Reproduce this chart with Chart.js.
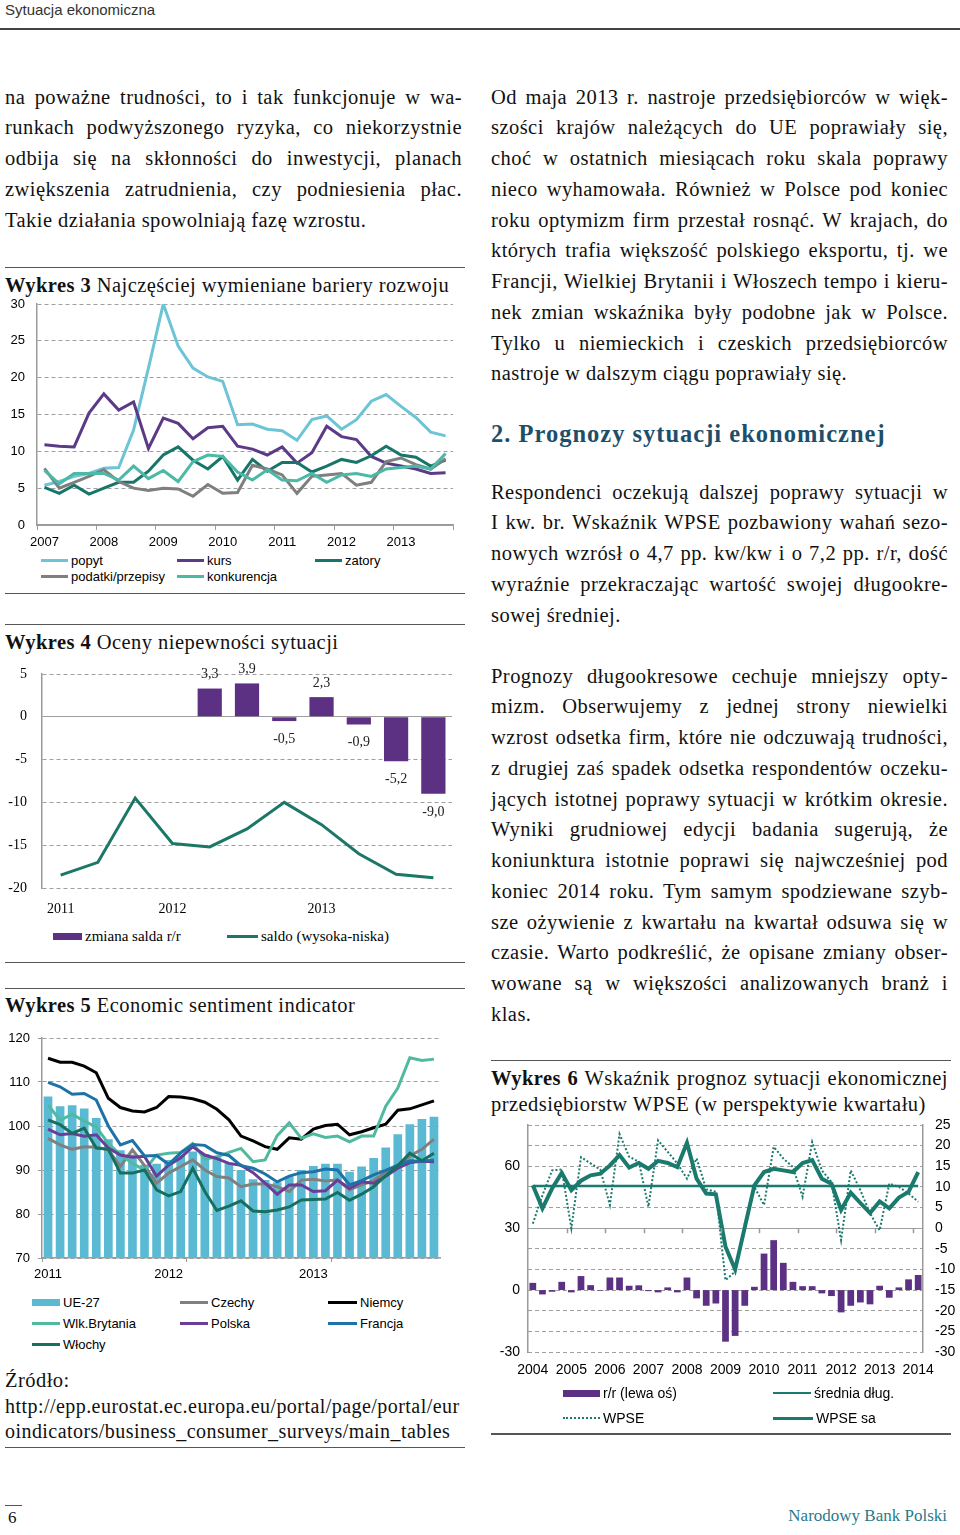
<!DOCTYPE html>
<html lang="pl">
<head>
<meta charset="utf-8">
<title>Sytuacja ekonomiczna</title>
<script src="https://cdn.jsdelivr.net/npm/chart.js@4.4.1/dist/chart.umd.min.js"></script>
<style>
  html, body { margin: 0; padding: 0; background: #fff; }
  body { width: 960px; height: 1535px; position: relative; overflow: hidden;
         font-family: 'Liberation Serif', 'DejaVu Serif', serif; color: #111; }
  .ln { position: absolute; height: 31px; line-height: 31px; font-size: 20.5px; letter-spacing: 0.45px;
        word-spacing: -1px; text-align: justify; text-align-last: justify; }
  .ln.end { text-align-last: left; word-spacing: 0; }
  .L { left: 5px; width: 457px; }
  .R { left: 491px; width: 457px; }
  .ttl { position: absolute; font-size: 20.5px; letter-spacing: 0.45px; line-height: 26px; white-space: nowrap; }
  .url { font-size: 20px; }
  .rule { position: absolute; height: 0; border-top: 1px solid #555; }
  .chart { position: absolute; }
  .lg { position: absolute; display: flex; align-items: center; height: 18px; transform: translateY(-50%);
        font-family: 'Liberation Sans', Arial, sans-serif; font-size: 13px; white-space: nowrap; color: #000; }
  .lg.serif { font-family: 'Liberation Serif', serif; font-size: 15px; }
  .lg.big { font-size: 14px; }
  .sw { display: inline-block; margin-right: 3px; }
  .sw.line { height: 3px; }
  .sw.thin { height: 2px; }
  .sw.rect { height: 7px; }
  .sw.dot { height: 0; border-top: 2px dotted; }
</style>
</head>
<body>

<div style="position:absolute;left:5px;top:1px;font-family:'Liberation Sans',Arial,sans-serif;font-size:15px;color:#333;">Sytuacja ekonomiczna</div>
<div class="rule" style="left:0;top:28px;width:960px;border-top:2px solid #444;"></div>

<!-- lewa kolumna -->
<div class="ln L" style="top:81.5px">na poważne trudności, to i tak funkcjonuje w wa-</div>
<div class="ln L" style="top:112.3px">runkach podwyższonego ryzyka, co niekorzystnie</div>
<div class="ln L" style="top:143px">odbija się na skłonności do inwestycji, planach</div>
<div class="ln L" style="top:173.8px">zwiększenia zatrudnienia, czy podniesienia płac.</div>
<div class="ln L end" style="top:204.5px">Takie działania spowolniają fazę wzrostu.</div>

<div class="rule" style="left:5px;top:267px;width:460px;"></div>
<div class="ttl" style="left:5px;top:272px"><b>Wykres 3</b> Najczęściej wymieniane bariery rozwoju</div>
<div class="chart" style="left:0;top:292px;width:465px;height:258px"><canvas id="c3"></canvas></div>
<div class="rule" style="left:5px;top:593px;width:460px;"></div>

<div class="rule" style="left:5px;top:624px;width:460px;"></div>
<div class="ttl" style="left:5px;top:629px"><b>Wykres 4</b> Oceny niepewności sytuacji</div>
<div class="chart" style="left:0;top:660px;width:462px;height:263px"><canvas id="c4"></canvas></div>
<div class="rule" style="left:5px;top:962px;width:460px;"></div>

<div class="rule" style="left:5px;top:988px;width:460px;"></div>
<div class="ttl" style="left:5px;top:992px"><b>Wykres 5</b> Economic sentiment indicator</div>
<div class="chart" style="left:0;top:1026px;width:448px;height:262px"><canvas id="c5"></canvas></div>

<div class="ttl" style="left:5px;top:1367px">Źródło:</div>
<div class="ttl url" style="left:5px;top:1393px">http://epp.eurostat.ec.europa.eu/portal/page/portal/eur</div>
<div class="ttl url" style="left:5px;top:1418px">oindicators/business_consumer_surveys/main_tables</div>
<div class="rule" style="left:5px;top:1447px;width:460px;"></div>

<!-- prawa kolumna -->
<div class="ln R" style="top:81.5px">Od maja 2013 r. nastroje przedsiębiorców w więk-</div>
<div class="ln R" style="top:112.3px">szości krajów należących do UE poprawiały się,</div>
<div class="ln R" style="top:143px">choć w ostatnich miesiącach roku skala poprawy</div>
<div class="ln R" style="top:173.8px">nieco wyhamowała. Również w Polsce pod koniec</div>
<div class="ln R" style="top:204.5px">roku optymizm firm przestał rosnąć. W krajach, do</div>
<div class="ln R" style="top:235.3px">których trafia większość polskiego eksportu, tj. we</div>
<div class="ln R" style="top:266px">Francji, Wielkiej Brytanii i Włoszech tempo i kieru-</div>
<div class="ln R" style="top:296.8px">nek zmian wskaźnika były podobne jak w Polsce.</div>
<div class="ln R" style="top:327.5px">Tylko u niemieckich i czeskich przedsiębiorców</div>
<div class="ln R end" style="top:358.3px">nastroje w dalszym ciągu poprawiały się.</div>

<div style="position:absolute;left:491px;top:417.5px;line-height:31px;font-size:24.5px;letter-spacing:1px;font-weight:bold;color:#1d4f6b;white-space:nowrap;">2. Prognozy sytuacji ekonomicznej</div>

<div class="ln R" style="top:476.5px">Respondenci oczekują dalszej poprawy sytuacji w</div>
<div class="ln R" style="top:507.3px">I kw. br. Wskaźnik WPSE pozbawiony wahań sezo-</div>
<div class="ln R" style="top:538px">nowych wzrósł o 4,7 pp. kw/kw i o 7,2 pp. r/r, dość</div>
<div class="ln R" style="top:568.8px">wyraźnie przekraczając wartość swojej długookre-</div>
<div class="ln R end" style="top:599.5px">sowej średniej.</div>

<div class="ln R" style="top:660.5px">Prognozy długookresowe cechuje mniejszy opty-</div>
<div class="ln R" style="top:691.3px">mizm. Obserwujemy z jednej strony niewielki</div>
<div class="ln R" style="top:722px">wzrost odsetka firm, które nie odczuwają trudności,</div>
<div class="ln R" style="top:752.8px">z drugiej zaś spadek odsetka respondentów oczeku-</div>
<div class="ln R" style="top:783.5px">jących istotnej poprawy sytuacji w krótkim okresie.</div>
<div class="ln R" style="top:814.3px">Wyniki grudniowej edycji badania sugerują, że</div>
<div class="ln R" style="top:845px">koniunktura istotnie poprawi się najwcześniej pod</div>
<div class="ln R" style="top:875.8px">koniec 2014 roku. Tym samym spodziewane szyb-</div>
<div class="ln R" style="top:906.5px">sze ożywienie z kwartału na kwartał odsuwa się w</div>
<div class="ln R" style="top:937.3px">czasie. Warto podkreślić, że opisane zmiany obser-</div>
<div class="ln R" style="top:968px">wowane są w większości analizowanych branż i</div>
<div class="ln R end" style="top:998.8px">klas.</div>

<div class="rule" style="left:491px;top:1060px;width:460px;"></div>
<div class="ttl" style="left:491px;top:1065px;width:457px;white-space:normal;text-align:justify;text-align-last:justify;word-spacing:-1px;"><b>Wykres 6</b> Wskaźnik prognoz sytuacji ekonomicznej</div>
<div class="ttl" style="left:491px;top:1091px">przedsiębiorstw WPSE (w perspektywie kwartału)</div>
<div class="chart" style="left:490px;top:1113px;width:470px;height:272px"><canvas id="c6"></canvas></div>
<div class="rule" style="left:491px;top:1433px;width:460px;border-top:2px solid #555;"></div>

<div class="rule" style="left:5px;top:1505px;width:17px;"></div>
<div style="position:absolute;left:8px;top:1508px;font-size:17px;">6</div>
<div style="position:absolute;right:13px;top:1506px;font-size:17px;color:#2a7a8a;">Narodowy Bank Polski</div>

<script>
// ---- Wykres 3: bariery rozwoju (kwartalnie 2007-2013) ----
const kw3 = ['I 2007','II 2007','III 2007','IV 2007','I 2008','II 2008','III 2008','IV 2008',
  'I 2009','II 2009','III 2009','IV 2009','I 2010','II 2010','III 2010','IV 2010',
  'I 2011','II 2011','III 2011','IV 2011','I 2012','II 2012','III 2012','IV 2012',
  'I 2013','II 2013','III 2013','IV 2013'];
const popyt = [5.4, 5.9, 6.6, 7.0, 7.7, 7.8, 12.9, 21.3, 30.0, 24.3, 21.3, 20.1, 19.5, 13.6,
  13.7, 13.0, 12.8, 11.5, 14.3, 14.8, 13.0, 14.3, 16.8, 17.7, 16.1, 14.6, 12.6, 12.1];
const kurs = [10.9, 10.7, 10.6, 15.2, 17.8, 15.6, 16.7, 10.4, 14.5, 13.8, 11.7, 13.2, 13.4, 10.7,
  10.3, 9.5, 10.6, 8.4, 9.8, 13.4, 12.0, 11.6, 9.3, 8.4, 8.0, 7.6, 7.0, 7.1];
const zatory = [5.1, 4.3, 5.4, 4.2, 5.0, 5.8, 5.8, 7.3, 9.5, 10.6, 8.8, 7.6, 9.3, 6.1,
  8.9, 7.3, 8.5, 8.5, 7.2, 8.0, 8.9, 8.5, 9.4, 10.7, 9.5, 9.2, 8.0, 8.8];
const podatki = [7.7, 5.0, 5.8, 6.6, 7.5, 5.9, 5.0, 4.7, 5.0, 4.9, 3.9, 5.5, 4.3, 4.4,
  8.1, 7.6, 6.8, 4.3, 6.6, 6.8, 7.0, 5.4, 5.8, 8.6, 9.1, 8.2, 7.6, 9.0];
const konkurencja = [7.4, 5.6, 7.0, 7.0, 7.0, 6.1, 8.0, 6.3, 7.4, 5.9, 8.6, 9.5, 9.3, 7.2,
  6.1, 7.5, 6.1, 6.0, 7.0, 5.8, 6.8, 7.0, 6.6, 7.6, 7.8, 8.0, 7.6, 9.7];

// ---- Wykres 4: oceny niepewności (kwartalnie II 2011 - IV 2013) ----
const kw4 = ['II 2011','III 2011','IV 2011','I 2012','II 2012','III 2012','IV 2012',
  'I 2013','II 2013','III 2013','IV 2013'];
const zmianaSalda = [null, null, null, null, 3.3, 3.9, -0.5, 2.3, -0.9, -5.2, -9.0];
const saldo = [-18.5, -17.0, -9.5, -14.8, -15.2, -13.1, -10.0, -12.6, -16.0, -18.4, -18.8];

// ---- Wykres 5: ESI (miesięcznie 03.2011 - 11.2013) ----
const mies5 = ['03.2011','04.2011','05.2011','06.2011','07.2011','08.2011','09.2011','10.2011',
  '11.2011','12.2011','01.2012','02.2012','03.2012','04.2012','05.2012','06.2012','07.2012',
  '08.2012','09.2012','10.2012','11.2012','12.2012','01.2013','02.2013','03.2013','04.2013',
  '05.2013','06.2013','07.2013','08.2013','09.2013','10.2013','11.2013'];
const ue27 = [106.7, 104.5, 104.7, 104.0, 101.8, 97.0, 94.5, 93.5, 91.2, 91.4, 92.3, 93.3, 94.2,
  93.6, 93.0, 91.6, 90.0, 87.9, 87.7, 87.2, 88.6, 90.0, 90.9, 91.4, 91.4, 89.6, 90.8, 92.7,
  95.1, 98.1, 100.4, 101.6, 102.1];
const czechy = [97.2, 95.7, 94.7, 95.3, 95.2, 94.6, 90.8, 94.6, 91.0, 87.0, 89.3, 90.8, 92.3,
  90.0, 88.5, 88.2, 86.2, 86.8, 86.8, 86.2, 85.1, 87.7, 87.9, 87.5, 87.7, 85.5, 86.6, 87.6,
  89.6, 90.8, 93.2, 94.7, 97.0];
const niemcy = [115.4, 114.5, 114.5, 113.6, 112.1, 106.3, 104.2, 103.4, 103.2, 104.2, 106.7, 106.6,
  106.2, 105.4, 103.8, 101.4, 97.7, 96.6, 95.3, 94.7, 97.3, 97.0, 99.3, 100.1, 100.4, 98.0,
  98.7, 99.6, 100.4, 103.6, 103.9, 104.8, 105.7];
const wlkBrytania = [104.8, 101.3, 102.7, 101.1, 99.8, 96.0, 93.5, 91.5, 90.0, 93.4, 93.8, 94.0,
  96.0, 92.5, 93.0, 94.0, 94.9, 91.9, 92.3, 97.8, 100.7, 97.2, 98.2, 97.4, 97.7, 96.4, 97.7,
  97.7, 104.5, 108.6, 115.5, 114.9, 115.2];
const polska = [99.3, 98.0, 98.3, 97.7, 98.0, 95.0, 93.4, 92.9, 93.1, 88.6, 91.1, 92.8, 95.3,
  93.4, 92.6, 91.5, 91.1, 89.4, 87.0, 84.5, 86.6, 86.6, 85.1, 85.3, 87.7, 85.8, 87.3, 87.0,
  88.6, 90.4, 91.7, 92.0, 91.9];
const francja = [109.9, 108.9, 107.2, 107.4, 105.9, 100.0, 95.7, 96.7, 93.2, 93.3, 91.3, 93.9,
  95.8, 95.6, 93.9, 93.3, 91.0, 90.4, 89.1, 87.3, 88.6, 89.4, 89.6, 90.2, 90.0, 86.6, 87.6,
  88.9, 89.9, 91.1, 92.1, 92.0, 92.3];
const wlochy = [101.4, 100.3, 98.3, 99.5, 95.0, 94.7, 89.3, 89.3, 90.0, 85.5, 84.1, 85.1, 90.4,
  85.1, 80.8, 81.8, 83.0, 80.7, 80.5, 80.9, 81.6, 83.2, 83.3, 83.4, 84.9, 83.1, 84.5, 86.2,
  88.7, 91.0, 93.8, 92.1, 93.8];

// ---- Wykres 6: WPSE (kwartalnie I 2004 - I 2014) ----
const kw6 = ['I 2004','II 2004','III 2004','IV 2004','I 2005','II 2005','III 2005','IV 2005',
  'I 2006','II 2006','III 2006','IV 2006','I 2007','II 2007','III 2007','IV 2007',
  'I 2008','II 2008','III 2008','IV 2008','I 2009','II 2009','III 2009','IV 2009',
  'I 2010','II 2010','III 2010','IV 2010','I 2011','II 2011','III 2011','IV 2011',
  'I 2012','II 2012','III 2012','IV 2012','I 2013','II 2013','III 2013','IV 2013','I 2014'];
const rr = [3.5, -2.1, -0.8, 4.0, -1.1, 6.8, 2.4, -0.3, 6.1, 6.1, 2.1, 2.3, -0.5, -1.1, 1.3,
  -1.1, 6.1, -4.0, -7.6, -6.5, -25.0, -22.2, -7.6, 1.6, 17.7, 24.2, 13.2, 4.0, 1.9, 1.9,
  -1.6, -2.9, -10.8, -7.6, -6.0, -6.9, 2.1, -3.7, 1.3, 5.2, 7.3];
const wpse = [1.1, 8.0, 14.0, 14.2, 0.0, 17.2, 15.7, 14.2, 5.6, 22.8, 17.3, 16.1, 5.2, 21.3,
  18.5, 15.7, 12.0, 16.9, 9.4, 8.8, -12.6, -10.5, 1.1, 10.0, 5.6, 19.7, 16.9, 14.8, 7.6,
  20.9, 14.0, 11.2, -2.9, 14.0, 9.2, 3.6, -0.5, 10.8, 10.0, 8.4, 6.4];
const wpseSa = [10.4, 4.8, 9.6, 13.4, 9.2, 11.5, 12.8, 13.2, 15.2, 17.7, 14.7, 15.8, 14.4, 16.3,
  15.8, 14.8, 20.7, 12.0, 8.4, 8.2, -4.5, -10.0, 0.2, 10.4, 13.6, 14.4, 14.0, 13.6, 15.8,
  16.5, 12.0, 10.8, 4.4, 8.6, 6.1, 3.7, 6.5, 4.8, 7.4, 8.8, 13.6];
const sredniaDlug = [10.2, 10.2, 10.2, 10.2, 10.2, 10.2, 10.2, 10.2, 10.2, 10.2, 10.2, 10.2,
  10.2, 10.2, 10.2, 10.2, 10.2, 10.2, 10.2, 10.2, 10.2, 10.2, 10.2, 10.2, 10.2, 10.2, 10.2,
  10.2, 10.2, 10.2, 10.2, 10.2, 10.2, 10.2, 10.2, 10.2, 10.2, 10.2, 10.2, 10.2, 10.2];

const SANS = "'Liberation Sans', Arial, sans-serif";
const SERIF = "'Liberation Serif', serif";
const AXIS = '#9a9a9a';
const GRID = '#9f9f9f';
const NONE = 'rgba(0,0,0,0)';

const C = {
  popyt: '#6cc4d6', kurs: '#5b3a87', zatory: '#17756a', podatki: '#7f7f7f', konkurencja: '#4cb8a6',
  bar: '#5c3183', saldo: '#1b7766',
  ue: '#5bbad3', cz: '#808080', de: '#000000', uk: '#4fba9f', pl: '#6a3d96', fr: '#1d72a8', it: '#176f60',
  wpse: '#1a7a6d'
};

Chart.defaults.font.family = SANS;
Chart.defaults.color = '#000';

// linie siatki przerywane, zero ciągłe
const dashUnlessZero = c => (c.tick && c.tick.value !== 0) ? [4, 3] : [];
// stała szerokość osi pionowej, bez dodatkowego marginesu na etykiety
const fixW = w => s => { s.width = w; s.paddingTop = 0; s.paddingBottom = 0; };
const fixH = h => s => { s.height = h; };

const base = {
  animation: false,
  responsive: true,
  maintainAspectRatio: false,
  plugins: { legend: { display: false }, tooltip: { enabled: false } },
  elements: { point: { radius: 0 }, line: { borderWidth: 3, tension: 0 } }
};

const line = (label, data, color, order, extra) =>
  Object.assign({ type: 'line', label, data, borderColor: color, backgroundColor: color, order }, extra || {});

// Wykres 3
new Chart(document.getElementById('c3'), {
  type: 'line',
  data: {
    labels: kw3,
    datasets: [
      line('popyt', popyt, C.popyt, 5),
      line('kurs', kurs, C.kurs, 4),
      line('zatory', zatory, C.zatory, 3),
      line('podatki/przepisy', podatki, C.podatki, 2),
      line('konkurencja', konkurencja, C.konkurencja, 1)
    ]
  },
  options: {
    ...base,
    layout: { padding: { top: 12, right: 12, left: 0, bottom: 0 } },
    scales: {
      x: {
        offset: true,
        grid: { offset: true, drawOnChartArea: false, tickLength: 5, color: AXIS,
                tickColor: c => (c.index === undefined || c.index % 4 === 0) ? AXIS : NONE },
        border: { color: AXIS, width: 1.5 },
        ticks: { autoSkip: false, maxRotation: 0, padding: 5, font: { size: 13 },
                 callback: (v, i) => kw3[i].startsWith('I ') ? kw3[i].slice(2) : '' },
        afterFit: fixH(25)
      },
      y: {
        min: 0, max: 30,
        ticks: { stepSize: 5, padding: 12, font: { size: 13 } },
        grid: { drawTicks: false, color: GRID },
        border: { color: AXIS, width: 1.5, dash: dashUnlessZero },
        afterFit: fixW(37)
      }
    }
  }
});

// Wykres 4 – etykiety wartości słupków
const barValues = {
  id: 'barValues',
  afterDatasetsDraw(chart) {
    const meta = chart.getDatasetMeta(0);
    const ctx = chart.ctx;
    ctx.save();
    ctx.font = '14px ' + SERIF;
    ctx.fillStyle = '#222';
    ctx.textAlign = 'center';
    ctx.textBaseline = 'middle';
    meta.data.forEach((el, i) => {
      const v = zmianaSalda[i];
      if (v === null) return;
      const txt = v.toFixed(1).replace('.', ',');
      ctx.fillText(txt, el.x, v >= 0 ? el.y - 14 : el.y + 18);
    });
    ctx.restore();
  }
};

new Chart(document.getElementById('c4'), {
  type: 'bar',
  data: {
    labels: kw4,
    datasets: [
      { label: 'zmiana salda r/r', data: zmianaSalda, backgroundColor: C.bar,
        barPercentage: 0.65, categoryPercentage: 1, order: 2 },
      line('saldo (wysoka-niska)', saldo, C.saldo, 1)
    ]
  },
  plugins: [barValues],
  options: {
    ...base,
    layout: { padding: { top: 14, right: 10, left: 0, bottom: 0 } },
    scales: {
      x: {
        grid: { display: false, drawTicks: false },
        border: { display: false },
        ticks: { autoSkip: false, maxRotation: 0, padding: 13, font: { family: SERIF, size: 14 },
                 callback: (v, i) => (i === 0 || kw4[i].startsWith('I ')) ? kw4[i].split(' ')[1] : '' },
        afterFit: fixH(35)
      },
      y: {
        min: -20, max: 5,
        ticks: { stepSize: 5, padding: 15, font: { family: SERIF, size: 14 } },
        grid: { drawTicks: false, color: GRID },
        border: { color: AXIS, width: 1.5, dash: dashUnlessZero },
        afterFit: fixW(42)
      }
    }
  }
});

// Wykres 5
new Chart(document.getElementById('c5'), {
  type: 'bar',
  data: {
    labels: mies5,
    datasets: [
      { label: 'UE-27', data: ue27, backgroundColor: C.ue, barPercentage: 0.72, categoryPercentage: 1, order: 20 },
      line('Czechy', czechy, C.cz, 7),
      line('Niemcy', niemcy, C.de, 6),
      line('Wlk.Brytania', wlkBrytania, C.uk, 5),
      line('Polska', polska, C.pl, 4),
      line('Francja', francja, C.fr, 3),
      line('Włochy', wlochy, C.it, 2)
    ]
  },
  options: {
    ...base,
    layout: { padding: { top: 12, right: 8, left: 0, bottom: 0 } },
    scales: {
      x: {
        grid: { offset: true, drawOnChartArea: false, tickLength: 4, color: AXIS,
                tickColor: c => (c.index !== undefined && c.index % 12 === 0) ? AXIS : NONE },
        border: { color: AXIS, width: 1.5 },
        ticks: { autoSkip: false, maxRotation: 0, padding: 5, font: { size: 13 },
                 callback: (v, i) => (i === 0 || mies5[i].startsWith('01.')) ? mies5[i].slice(3) : '' },
        afterFit: fixH(30)
      },
      y: {
        min: 70, max: 120,
        ticks: { stepSize: 10, padding: 8, font: { size: 13 } },
        grid: { drawTicks: true, tickLength: 4, color: GRID, tickColor: AXIS },
        border: { color: AXIS, width: 1.5, dash: dashUnlessZero },
        afterFit: fixW(42)
      }
    }
  }
});

// Wykres 6 – znaczniki lat na osi zera
const yearTicks = {
  id: 'yearTicks',
  afterDatasetsDraw(chart) {
    const xs = chart.scales.x, ys = chart.scales.yR, ctx = chart.ctx;
    const y0 = ys.getPixelForValue(0);
    const half = (xs.getPixelForValue(1) - xs.getPixelForValue(0)) / 2;
    ctx.save();
    ctx.strokeStyle = AXIS;
    ctx.lineWidth = 1.5;
    ctx.beginPath();
    kw6.forEach((k, i) => {
      if (i > 0 && k.startsWith('I ')) {
        const px = Math.round(xs.getPixelForValue(i) - half) + 0.5;
        ctx.moveTo(px, y0);
        ctx.lineTo(px, y0 + 5);
      }
    });
    ctx.stroke();
    ctx.restore();
  }
};

new Chart(document.getElementById('c6'), {
  type: 'bar',
  data: {
    labels: kw6,
    datasets: [
      { label: 'r/r (lewa oś)', data: rr, backgroundColor: C.bar, yAxisID: 'yL',
        barPercentage: 0.7, categoryPercentage: 1, order: 10 },
      line('średnia dług.', sredniaDlug, C.wpse, 3, { yAxisID: 'yR', borderWidth: 2.5 }),
      line('WPSE', wpse, C.wpse, 2, { yAxisID: 'yR', borderWidth: 2, borderDash: [2, 2] }),
      line('WPSE sa', wpseSa, C.wpse, 1, { yAxisID: 'yR', borderWidth: 4 })
    ]
  },
  plugins: [yearTicks],
  options: {
    ...base,
    layout: { padding: { top: 12, right: 0, left: 0, bottom: 0 } },
    scales: {
      x: {
        grid: { display: false, drawTicks: false },
        border: { display: false },
        ticks: { autoSkip: false, maxRotation: 0, padding: 10, font: { size: 14 },
                 callback: (v, i) => kw6[i].startsWith('I ') ? kw6[i].slice(2) : '' },
        afterFit: fixH(33)
      },
      yL: {
        position: 'left',
        min: -30, max: 80,
        ticks: { stepSize: 30, padding: 8, font: { size: 14 },
                 callback: v => (v === 80 ? '' : v) },
        grid: { display: false, drawTicks: false },
        border: { color: AXIS, width: 1.5 },
        afterFit: fixW(38)
      },
      yR: {
        position: 'right',
        min: -30, max: 25,
        ticks: { stepSize: 5, padding: 12, font: { size: 14 } },
        grid: { drawTicks: false, color: GRID },
        border: { color: AXIS, width: 1.5, dash: dashUnlessZero },
        afterFit: fixW(37)
      }
    }
  }
});

// legendy
function addLegend(items) {
  items.forEach(it => {
    const d = document.createElement('div');
    d.className = 'lg ' + (it.cls || '');
    d.style.left = it.x + 'px';
    d.style.top = it.y + 'px';
    const s = document.createElement('span');
    s.className = 'sw ' + it.kind;
    s.style.width = (it.w || 27) + 'px';
    if (it.kind === 'dot') s.style.borderTopColor = it.color;
    else s.style.background = it.color;
    d.appendChild(s);
    d.appendChild(document.createTextNode(it.text));
    document.body.appendChild(d);
  });
}

addLegend([
  { text: 'popyt', color: C.popyt, kind: 'line', x: 41, y: 560 },
  { text: 'kurs', color: C.kurs, kind: 'line', x: 177, y: 560 },
  { text: 'zatory', color: C.zatory, kind: 'line', x: 315, y: 560 },
  { text: 'podatki/przepisy', color: C.podatki, kind: 'line', x: 41, y: 576 },
  { text: 'konkurencja', color: C.konkurencja, kind: 'line', x: 177, y: 576 },

  { text: 'zmiana salda r/r', color: C.bar, kind: 'rect', x: 53, y: 936, w: 29, cls: 'serif' },
  { text: 'saldo (wysoka-niska)', color: C.saldo, kind: 'line', x: 227, y: 936, w: 31, cls: 'serif' },

  { text: 'UE-27', color: C.ue, kind: 'rect', x: 32, y: 1302, w: 28 },
  { text: 'Czechy', color: C.cz, kind: 'line', x: 180, y: 1302, w: 28 },
  { text: 'Niemcy', color: C.de, kind: 'line', x: 328, y: 1302, w: 29 },
  { text: 'Wlk.Brytania', color: C.uk, kind: 'line', x: 32, y: 1323, w: 28 },
  { text: 'Polska', color: C.pl, kind: 'line', x: 180, y: 1323, w: 28 },
  { text: 'Francja', color: C.fr, kind: 'line', x: 328, y: 1323, w: 29 },
  { text: 'Włochy', color: C.it, kind: 'line', x: 32, y: 1344, w: 28 },

  { text: 'r/r (lewa oś)', color: C.bar, kind: 'rect', x: 563, y: 1393, w: 37, cls: 'big' },
  { text: 'średnia dług.', color: C.wpse, kind: 'thin', x: 773, y: 1393, w: 38, cls: 'big' },
  { text: 'WPSE', color: C.wpse, kind: 'dot', x: 563, y: 1418, w: 37, cls: 'big' },
  { text: 'WPSE sa', color: C.wpse, kind: 'line', x: 773, y: 1418, w: 40, cls: 'big' }
]);
</script>
</body>
</html>
